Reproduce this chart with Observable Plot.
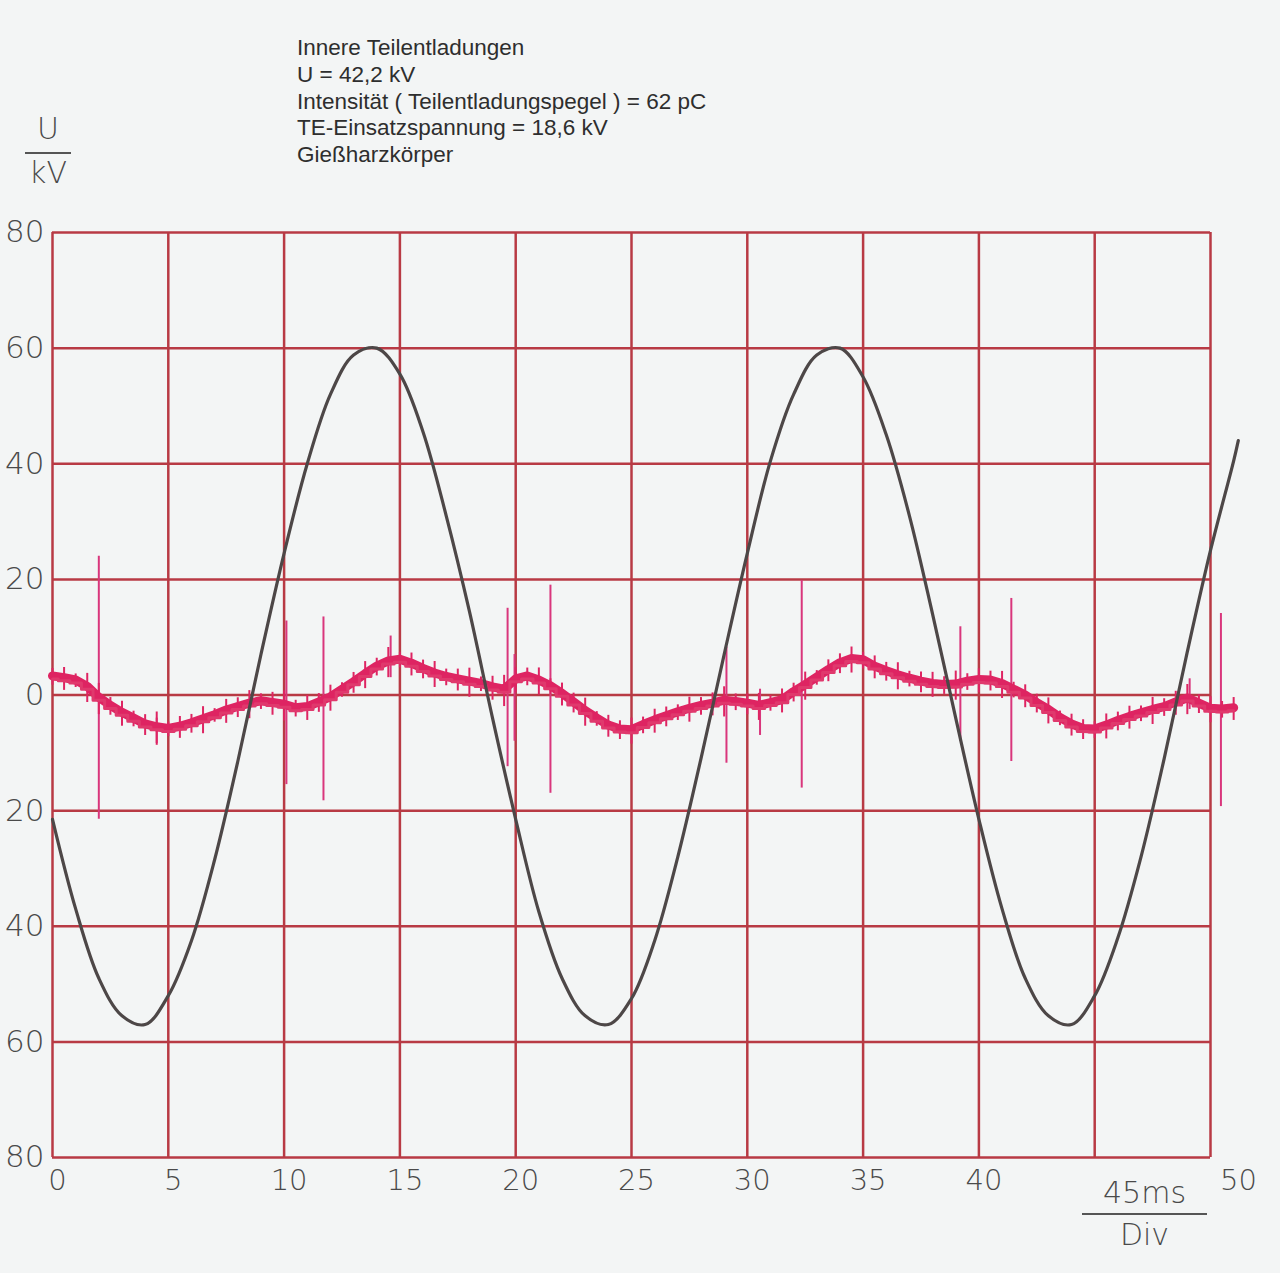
<!doctype html>
<html>
<head>
<meta charset="utf-8">
<style>
  body { margin: 0; background: #f3f5f5; }
  #page { position: relative; width: 1280px; height: 1273px; overflow: hidden; }
  #head { position: relative; height: 200px; }
  #title { position: absolute; left: 297px; top: 35px; font-family: "Liberation Sans", Arial, sans-serif; font-size: 22.5px; line-height: 26.8px; color: #2e2e2e; }
  .hand { font-family: "DejaVu Sans", sans-serif; font-weight: 200; color: #4a4a4a; position: absolute; }
  #ulabel { left: 25px; top: 113px; width: 46px; text-align: center; font-size: 30px; line-height: 32px; }
  #ulabel .bar { border-top: 2px solid #555; margin: 7px 0 3px; }
  #tlabel { left: 1082px; top: 1177px; width: 125px; text-align: center; font-size: 30px; line-height: 32px; }
  #tlabel .bar { border-top: 2px solid #555; margin: 4px 0 4px; }
  #myplot { position: absolute; left: 0; top: 200px; }
</style>
</head>
<body>
<div id="page">
  <div id="head">
    <div id="title">
      Innere Teilentladungen<br>
      U = 42,2 kV<br>
      Intensität ( Teilentladungspegel ) = 62 pC<br>
      TE-Einsatzspannung = 18,6 kV<br>
      Gießharzkörper
    </div>
    <div id="ulabel" class="hand">U<div class="bar"></div>kV</div>
  </div>
  <div id="myplot"></div>
  <div id="tlabel" class="hand">45ms<div class="bar"></div>Div</div>
</div>
<script src="https://cdn.jsdelivr.net/npm/d3@7"></script>
<script src="https://cdn.jsdelivr.net/npm/@observablehq/plot@0.6"></script>
<script>
  // grid / ticks (time in div, voltage in kV)
  const xTicks = [0, 5, 10, 15, 20, 25, 30, 35, 40, 45, 50];
  const xTickLabels = [0, 5, 10, 15, 20, 25, 30, 35, 40];
  const xLastLabel = [50];
  const yTicks = [-80, -60, -40, -20, 0, 20, 40, 60, 80];

  // test voltage trace (black)
  const blackT = [0, 1, 2, 3, 4, 5, 6, 7, 8, 9, 10, 11, 12, 13, 14, 15, 16, 17, 18, 19,
    20, 21, 22, 23, 24, 25, 26, 27, 28, 29, 30, 31, 32, 33, 34, 35, 36, 37, 38, 39,
    40, 41, 42, 43, 44, 45, 46, 47, 48, 49, 50, 51, 51.2];
  const blackU = [-21.5, -37, -49, -55.5, -57, -52, -42.5, -28.5, -11.5, 7, 24.5, 40, 52, 58.8, 60, 55.5, 45.5, 31, 14.5, -4,
    -21.5, -37.5, -49, -55.5, -57, -52.5, -42.5, -28, -11, 7, 24.5, 40.5, 52, 58.8, 60, 55, 45, 31, 14, -4,
    -21.5, -37, -49, -55.5, -57, -52, -42, -28, -11, 7.5, 25, 40.5, 44];

  // partial discharge trace (pink), sampled every half div
  const pinkT = [0, 0.5, 1, 1.5, 2, 2.5, 3, 3.5, 4, 4.5, 5, 5.5, 6, 6.5, 7, 7.5, 8, 8.5, 9, 9.5,
    10, 10.5, 11, 11.5, 12, 12.5, 13, 13.5, 14, 14.5, 15, 15.5, 16, 16.5, 17, 17.5, 18, 18.5, 19, 19.5,
    20, 20.5, 21, 21.5, 22, 22.5, 23, 23.5, 24, 24.5, 25, 25.5, 26, 26.5, 27, 27.5, 28, 28.5, 29, 29.5,
    30, 30.5, 31, 31.5, 32, 32.5, 33, 33.5, 34, 34.5, 35, 35.5, 36, 36.5, 37, 37.5, 38, 38.5, 39, 39.5,
    40, 40.5, 41, 41.5, 42, 42.5, 43, 43.5, 44, 44.5, 45, 45.5, 46, 46.5, 47, 47.5, 48, 48.5, 49, 49.5,
    50, 50.5, 51];
  const pinkU = [3.3, 3.0, 2.6, 1.5, -0.4, -1.8, -3.0, -4.0, -5.0, -5.5, -5.8, -5.4, -4.8, -4.1, -3.4, -2.6, -2.0, -1.4, -1.0, -1.3,
    -1.6, -2.2, -2.0, -1.2, -0.3, 1.0, 2.3, 3.7, 5.0, 5.9, 6.2, 5.5, 4.6, 3.8, 3.2, 2.8, 2.4, 2.0, 1.4, 1.0,
    2.8, 3.3, 2.6, 1.6, 0.3, -1.2, -2.7, -4.0, -5.2, -5.9, -6.0, -5.1, -4.3, -3.6, -2.9, -2.3, -1.8, -1.4, -0.9, -1.1,
    -1.4, -1.8, -1.3, -0.8, 0.6, 1.8, 3.1, 4.4, 5.6, 6.3, 6.1, 5.0, 4.2, 3.5, 2.9, 2.4, 2.0, 1.8, 1.9, 2.4,
    2.7, 2.6, 2.0, 1.0, 0.0, -1.3, -2.5, -3.9, -5.0, -5.8, -5.9, -5.2, -4.4, -3.7, -3.1, -2.5, -2.0, -1.2, -0.5, -1.4,
    -2.3, -2.4, -2.2];
  // noise fuzz around each pink sample (kV, estimated)
  const pinkFuzz = [1.6, 2.2, 1.3, 2.8, 3.0, 1.7, 2.4, 1.5, 2.0, 3.2, 1.4, 2.1, 1.8, 2.6, 1.3, 2.3, 1.9, 2.7, 1.5, 2.2,
    2.9, 1.6, 2.4, 1.8, 2.5, 1.4, 2.0, 2.6, 1.7, 2.9, 1.5, 2.2, 1.8, 2.5, 1.6, 2.1, 2.8, 1.4, 2.3, 3.0,
    2.4, 1.7, 2.6, 1.5, 2.2, 1.9, 2.7, 1.4, 2.1, 1.8, 2.5, 1.6, 2.3, 1.9, 1.5, 2.4, 1.7, 2.2, 2.9, 1.6,
    2.0, 2.6, 1.5, 2.3, 1.8, 2.7, 1.4, 2.1, 1.9, 2.5, 1.6, 2.2, 1.8, 2.6, 1.5, 2.0, 2.4, 1.7, 2.8, 1.6,
    2.3, 1.9, 2.6, 1.5, 2.2, 1.8, 2.5, 1.4, 2.1, 1.9, 1.6, 2.4, 1.8, 2.2, 1.5, 2.6, 1.7, 2.3, 2.9, 1.8,
    2.5, 1.6, 2.2];

  // discharge pulses: time, upper and lower peak
  const spikeT = [2.0, 4.5, 10.1, 11.7, 14.6, 19.65, 19.95, 21.5, 29.1, 30.55, 32.35, 39.2, 41.4, 49.1, 50.45];
  const spikeHi = [24, -4, 12.8, 13.5, 10.2, 15, 7, 19, 8.3, 1, 19.8, 11.8, 16.7, 2.8, 14.1];
  const spikeLo = [-21.5, -8.4, -15.5, -18.3, 3, -12.4, -8, -17, -11.8, -7, -16.1, -8, -11.5, -2.5, -19.3];

  const black = blackT.map((t, i) => ({ t, u: blackU[i] }));
  const pink = pinkT.map((t, i) => ({ t, u: pinkU[i], lo: pinkU[i] - pinkFuzz[i], hi: pinkU[i] + 0.8 * pinkFuzz[i] }));
  const spikes = spikeT.map((t, i) => ({ t, hi: spikeHi[i], lo: spikeLo[i] }));

  const gridColor = "#b83a44";
  const pinkColor = "#de2462";
  const handFont = { fontFamily: "DejaVu Sans, sans-serif", fontWeight: 200, fill: "#4a4a4a" };

  const plot = Plot.plot({
    width: 1280,
    height: 1073,
    marginLeft: 52,
    marginRight: 70,
    marginTop: 32,
    marginBottom: 116,
    style: { background: "transparent", overflow: "visible" },
    x: { domain: [0, 50] },
    y: { domain: [-80, 80] },
    marks: [
      Plot.ruleX(xTicks, { stroke: gridColor, strokeWidth: 2.5 }),
      Plot.ruleY(yTicks, { stroke: gridColor, strokeWidth: 2.5 }),
      Plot.axisY(yTicks, {
        tickSize: 0, tickPadding: 8, fontSize: 31, ...handFont,
        tickFormat: (d) => Math.abs(d)
      }),
      Plot.axisX(xTickLabels, { tickSize: 0, tickPadding: 12, fontSize: 29, dx: 5, label: null, ...handFont }),
      Plot.axisX(xLastLabel, { tickSize: 0, tickPadding: 12, fontSize: 29, dx: 28, label: null, ...handFont }),
      Plot.ruleX(spikes, { x: "t", y1: "lo", y2: "hi", stroke: "#d9367c", strokeWidth: 2 }),
      Plot.ruleX(pink, { x: "t", y1: "lo", y2: "hi", stroke: pinkColor, strokeWidth: 2 }),
      Plot.line(pink, { x: "t", y: "u", stroke: pinkColor, strokeWidth: 9, curve: "linear" }),
      Plot.line(pink, { x: "t", y: "u", stroke: "#e0396d", strokeWidth: 3, curve: "step", dy: 3 }),
      Plot.line(black, { x: "t", y: "u", stroke: "#4d4747", strokeWidth: 3.2, curve: "catmull-rom" })
    ]
  });

  document.querySelector("#myplot").append(plot);
</script>
</body>
</html>
